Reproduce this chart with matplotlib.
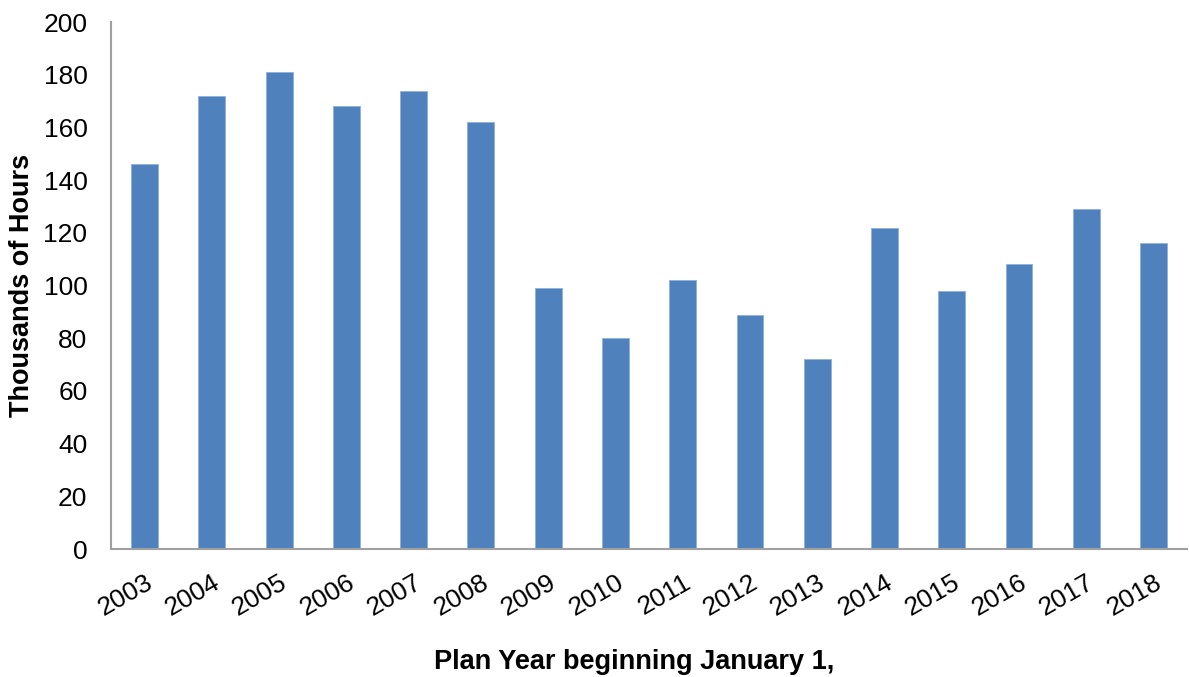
import matplotlib
matplotlib.use("Agg")
import matplotlib.pyplot as plt

plt.rcParams['font.family'] = ['Liberation Sans', 'DejaVu Sans']

years = ["2003", "2004", "2005", "2006", "2007", "2008", "2009", "2010",
         "2011", "2012", "2013", "2014", "2015", "2016", "2017", "2018"]
hours = [146, 172, 181, 168, 174, 162, 99, 80, 102, 89, 72, 122, 98, 108, 129, 116]

fig = plt.figure(figsize=(11.89, 6.77), dpi=100)
ax = fig.add_axes([0.0934, 0.189, 0.905, 0.7785])
x = range(len(years))
ax.bar(x, hours, width=0.4, color="#4F81BD", edgecolor="#8EB0DC", linewidth=0.6)
ax.set_xlim(-0.5, len(years) - 0.5)
ax.set_ylim(0, 200)
ax.set_yticks(range(0, 201, 20))
ax.set_xticks(list(x))
ax.set_xticklabels(years, rotation=30, ha="right", rotation_mode="anchor")
ax.tick_params(axis="both", length=0, labelsize=19)
ax.tick_params(axis="y", pad=17)
ax.tick_params(axis="x", pad=15)
for s in ["top", "right"]:
    ax.spines[s].set_visible(False)
for s in ["left", "bottom"]:
    ax.spines[s].set_color("#A0A0A0")
    ax.spines[s].set_linewidth(1.5)
ax.set_ylabel("Thousands of Hours", fontsize=19.5, fontweight="bold")
ax.set_xlabel("Plan Year beginning January 1,", fontsize=19.5, fontweight="bold")
ax.yaxis.set_label_coords(-0.0705, 0.5)
ax.xaxis.set_label_coords(0.486, -0.19)
fig.savefig("out.png", dpi=100)
